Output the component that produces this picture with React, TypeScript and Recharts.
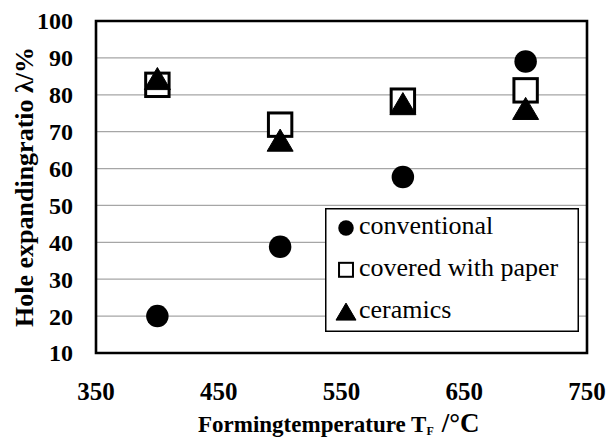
import { ScatterChart, Scatter, XAxis, YAxis, CartesianGrid, ReferenceArea, Legend, Label } from "recharts";

const temperatures = [400, 500, 600, 700];
const conventional = [20, 38.8, 57.7, 89];
const coveredWithPaper = [82.7, 71.9, 78.4, 81.2];
const ceramics = [84.4, 67.7, 77.6, 76.3];

const xTicks = [350, 450, 550, 650, 750];
const yTicks = [10, 20, 30, 40, 50, 60, 70, 80, 90, 100];

// Chrome swaps the face when serif text is stretched or letter-spaced,
// so widths are tuned with font size only
const SERIF = "Liberation Serif";
const GRID = "#a6a6a6";

type MarkerKind = "dot" | "box" | "tri";

const series: { name: string; values: number[]; marker: MarkerKind }[] = [
  { name: "conventional", values: conventional, marker: "dot" },
  { name: "covered with paper", values: coveredWithPaper, marker: "box" },
  { name: "ceramics", values: ceramics, marker: "tri" },
];

const toPoints = (values: number[]) => temperatures.map((t, i) => ({ x: t, y: values[i] }));

const serifStyle = (size: number, bold = true) => ({
  fontFamily: SERIF,
  fontSize: size,
  fontWeight: bold ? 700 : 400,
});

function Marker({ kind, cx, cy, s }: { kind: MarkerKind; cx: number; cy: number; s: number }) {
  if (kind === "dot") return <circle cx={cx} cy={cy} r={s / 2} fill="#000" />;
  if (kind === "box") {
    const w = s * 0.9;
    return (
      <rect x={cx - w / 2} y={cy - w / 2} width={w} height={w} fill="#fff" stroke="#000" strokeWidth={s > 16 ? 3 : 2} />
    );
  }
  const h = s * 0.85;
  return (
    <polygon
      points={`${cx},${cy - h / 2} ${cx + s / 2},${cy + h / 2} ${cx - s / 2},${cy + h / 2}`}
      fill="#000"
      stroke="#000"
      strokeWidth={1}
      strokeLinejoin="round"
    />
  );
}

const shapeFor = (kind: MarkerKind) => (p: any) => <Marker kind={kind} cx={p.cx} cy={p.cy} s={kind === "dot" ? 22.5 : 26} />;

const YTick = ({ x, y, payload }: any) => (
  <text x={x} y={y} dy="0.35em" textAnchor="end" style={serifStyle(24)} fill="#000">
    {payload.value}
  </text>
);

const XTick = ({ x, y, payload }: any) => (
  <text x={x} y={y} dy="0.71em" textAnchor="middle" style={serifStyle(25)} fill="#000">
    {payload.value}
  </text>
);

const YTitle = ({ viewBox }: any) => {
  const cx = viewBox.x + 24;
  const cy = viewBox.y + viewBox.height / 2;
  return (
    <text transform={`translate(${cx} ${cy}) rotate(-90)`} dy="0.35em" textAnchor="middle" style={serifStyle(26)} fill="#000">
      Hole expandingratio λ/%
    </text>
  );
};

const XTitle = ({ viewBox }: any) => {
  const left = viewBox.x + viewBox.width / 2 - 143.5;
  const base = viewBox.y + 79;
  return (
    <text x={left} y={base} style={serifStyle(23)} fill="#000">
      Formingtemperature T
      <tspan dy={3} style={serifStyle(12)}>
        F
      </tspan>
      <tspan dy={-3} dx={8} style={serifStyle(27)}>
        /°C
      </tspan>
    </text>
  );
};

// legend rows follow the series order rather than Recharts' sorted payload
const LegendBox = () => (
  <svg width={254} height={124} style={{ display: "block" }}>
    <rect x={0.75} y={0.75} width={252.5} height={122.5} fill="#fff" stroke="#000" strokeWidth={1.5} />
    {series.map((item, i) => {
      const rowY = 20 + i * 41.8;
      return (
        <g key={item.name}>
          <Marker kind={item.marker} cx={21} cy={rowY} s={item.marker === "tri" ? 20 : 15.5} />
          <text x={34} y={rowY + 6} style={serifStyle(26, false)} fill="#000">
            {item.name}
          </text>
        </g>
      );
    })}
  </svg>
);

export default function App() {
  return (
    <div style={{ position: "absolute", left: 0, top: 0, width: 608, height: 439, background: "#fff" }}>
      <ScatterChart width={608} height={439} margin={{ top: 21, right: 21, bottom: 0, left: 0 }}>
        <CartesianGrid horizontal vertical={false} stroke={GRID} strokeWidth={1.2} />
        <XAxis
          type="number"
          dataKey="x"
          domain={[350, 750]}
          ticks={xTicks}
          allowDataOverflow
          axisLine={false}
          tickLine={false}
          tickSize={0}
          tickMargin={29}
          height={86}
          tick={<XTick />}
          interval={0}
        >
          <Label content={<XTitle />} />
        </XAxis>
        <YAxis
          type="number"
          dataKey="y"
          domain={[10, 100]}
          ticks={yTicks}
          allowDataOverflow
          axisLine={false}
          tickLine={false}
          tickSize={0}
          tickMargin={23}
          width={96}
          tick={<YTick />}
          interval={0}
        >
          <Label content={<YTitle />} />
        </YAxis>
        <ReferenceArea x1={350} x2={750} y1={10} y2={100} fill="none" stroke="#000" strokeWidth={2.6} />
        <Legend
          layout="vertical"
          align="center"
          verticalAlign="middle"
          wrapperStyle={{ left: 325, top: 208, width: 254, height: 124 }}
          content={<LegendBox />}
        />
        {series.map((s) => (
          <Scatter
            key={s.name}
            name={s.name}
            data={toPoints(s.values)}
            fill="#000"
            shape={shapeFor(s.marker)}
            isAnimationActive={false}
          />
        ))}
      </ScatterChart>
    </div>
  );
}
